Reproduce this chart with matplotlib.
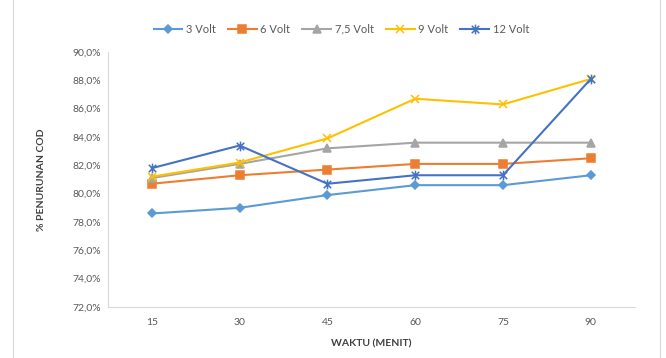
import numpy as np
import matplotlib.pyplot as plt
from matplotlib.lines import Line2D
from matplotlib.path import Path
from matplotlib.ticker import FuncFormatter

plt.rcParams['font.family'] = ['Lato', 'DejaVu Sans']

waktu = ['15', '30', '45', '60', '75', '90']
v3 = [78.6, 79.0, 79.9, 80.6, 80.6, 81.3]
v6 = [80.7, 81.3, 81.7, 82.1, 82.1, 82.5]
v75 = [81.1, 82.1, 83.2, 83.6, 83.6, 83.6]
v9 = [81.2, 82.2, 83.9, 86.7, 86.3, 88.1]
v12 = [81.8, 83.4, 80.7, 81.3, 81.3, 88.1]

# marker bintang: silang ditambah garis tegak
bintang = Path(
    [(-1, -1), (1, 1), (-1, 1), (1, -1), (0, -1.3), (0, 1.3)],
    [Path.MOVETO, Path.LINETO, Path.MOVETO, Path.LINETO, Path.MOVETO, Path.LINETO],
)

seri = [
    ('3 Volt', v3, '#5B9BD5', 'D', 4),
    ('6 Volt', v6, '#ED7D31', 's', 6),
    ('7,5 Volt', v75, '#A5A5A5', '^', 6),
    ('9 Volt', v9, '#FFC000', 'x', 6),
    ('12 Volt', v12, '#4472C4', bintang, 7),
]

fig = plt.figure(figsize=(6.66, 3.58), dpi=100)
ax = fig.add_axes([0.162, 0.1425, 0.791, 0.7122])

x = np.arange(len(waktu))
for nama, nilai, warna, mk, ms in seri:
    ax.plot(x, nilai, color=warna, lw=1.5, marker=mk, markersize=ms,
            markeredgewidth=1.1, label=nama)

ax.set_xlim(-0.5, len(waktu) - 0.5)
ax.set_ylim(72, 90)
ax.set_yticks(np.arange(72, 90.1, 2))
ax.yaxis.set_major_formatter(FuncFormatter(lambda v, p: f'{v:.1f}%'.replace('.', ',')))
ax.set_xticks(x)
ax.set_xticklabels(waktu)

for s in ['top', 'right']:
    ax.spines[s].set_visible(False)
for s in ['left', 'bottom']:
    ax.spines[s].set_color('#D9D9D9')
    ax.spines[s].set_linewidth(0.8)
ax.tick_params(length=0, colors='#595959', labelsize=7.5)
ax.tick_params(axis='x', pad=8)
ax.tick_params(axis='y', pad=5)

ax.set_xlabel('WAKTU (MENIT)', fontsize=7.5, fontweight='bold', color='#404040', labelpad=9)
ax.set_ylabel('% PENURUNAN COD', fontsize=7.5, fontweight='bold', color='#404040', labelpad=19)

ax.legend(loc='center', bbox_to_anchor=(0.443, 1.09), ncol=5, frameon=False,
          fontsize=8, labelcolor='#595959', handlelength=2.6, columnspacing=1.1,
          handletextpad=0.3)

# garis bingkai kiri dan kanan
fig.add_artist(Line2D([0.02, 0.02], [0, 1], color='#D9D9D9', lw=0.8))
fig.add_artist(Line2D([0.991, 0.991], [0, 1], color='#D9D9D9', lw=0.8))

fig.savefig('out.png', dpi=100)
